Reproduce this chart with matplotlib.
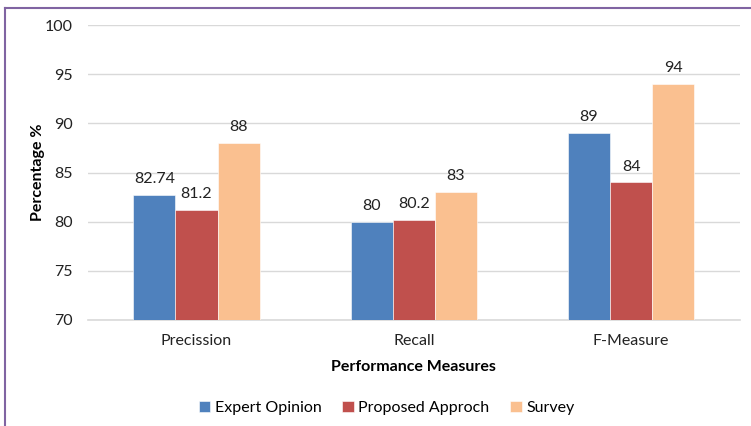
import numpy as np
import matplotlib.pyplot as plt
from matplotlib.lines import Line2D

categories = ['Precission', 'Recall', 'F-Measure']
series_names = ['Expert Opinion', 'Proposed Approch', 'Survey']
expert = [82.74, 80, 89]
proposed = [81.2, 80.2, 84]
survey = [88, 83, 94]
colors = ['#4F81BD', '#C0504D', '#FAC090']

plt.rcParams['font.family'] = ['Lato', 'DejaVu Sans']

fig = plt.figure(figsize=(7.51, 4.26), dpi=100)
ax = fig.add_axes([0.117, 0.249, 0.868, 0.692])

x = np.arange(len(categories))
width = 0.194
for i, (vals, name) in enumerate(zip([expert, proposed, survey], series_names)):
	pos = x + (i - 1) * width
	bars = ax.bar(pos, vals, width, color=colors[i], label=name, zorder=3,
				  edgecolor='white', linewidth=0.4)
	for b, v in zip(bars, vals):
		ax.text(b.get_x() + b.get_width() / 2, v + 0.9, '%g' % v,
				ha='center', va='bottom', fontsize=11.5, color='#222222')

ax.set_ylim(70, 100)
ax.set_xlim(-0.5, 2.5)
ax.set_yticks(range(70, 101, 5))
ax.set_xticks(x)
ax.set_xticklabels(categories)
ax.tick_params(axis='both', length=0, labelsize=11.5, colors='#222222')
ax.tick_params(axis='y', pad=11)
ax.tick_params(axis='x', pad=10)
ax.grid(axis='y', color='#D9D9D9', linewidth=1, zorder=0)
for s in ['top', 'right', 'left']:
	ax.spines[s].set_visible(False)
ax.spines['bottom'].set_color('#D9D9D9')
ax.spines['bottom'].set_linewidth(1.2)

ax.set_ylabel('Percentage %', fontsize=11.5, fontweight='bold', labelpad=0)
ax.set_xlabel('Performance Measures', fontsize=11.5, fontweight='bold', labelpad=9)

fig.legend(loc='center', bbox_to_anchor=(0.515, 0.042), ncol=3, frameon=False,
		   fontsize=11.5, handlelength=0.7, handleheight=0.7, handletextpad=0.3,
		   columnspacing=1.3)

# outer frame (left and top edges)
fig.add_artist(Line2D([0.006, 0.006], [0, 0.981], color='#8064A2', linewidth=1.5))
fig.add_artist(Line2D([0.006, 1.0], [0.981, 0.981], color='#8064A2', linewidth=1.5))

fig.savefig('out.png', dpi=100)
